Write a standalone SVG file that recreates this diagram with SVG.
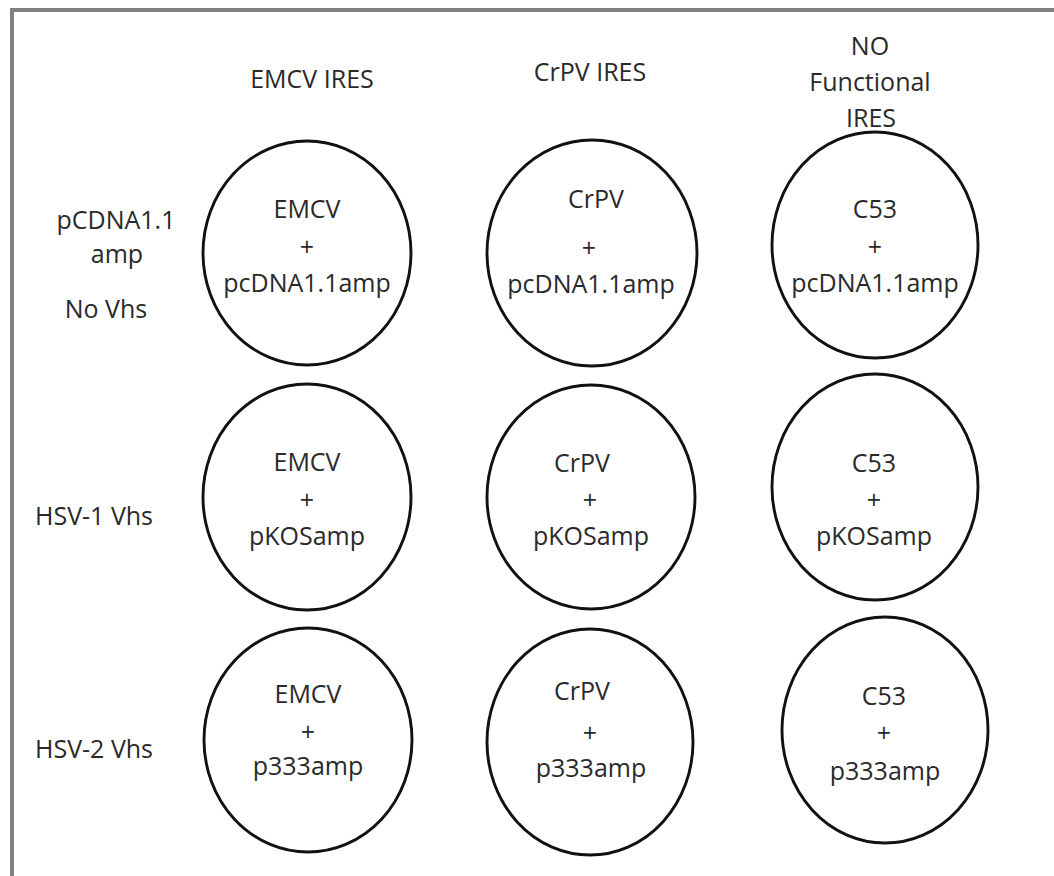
<svg xmlns="http://www.w3.org/2000/svg" width="1054" height="876" viewBox="0 0 1054 876">
  <style>
    text { font-family: "Open Sans", "Liberation Sans", sans-serif; font-size: 25px; fill: #2a2a2a; text-anchor: middle; }
    .left { text-anchor: start; }
    .well { fill: none; stroke: #111; stroke-width: 2.9; }
    .frame { fill: #fff; stroke: #808080; stroke-width: 4; }
  </style>
  <rect x="0" y="0" width="1054" height="876" fill="#fff"/>
  <!-- outer frame, runs off the right and bottom edges -->
  <rect class="frame" x="12" y="10" width="1100" height="900"/>

  <!-- column headers -->
  <g id="headers">
    <text x="312" y="88">EMCV IRES</text>
    <text x="590" y="81">CrPV IRES</text>
    <text x="870" y="55">NO</text>
    <text x="870" y="91">Functional</text>
    <text x="871" y="127">IRES</text>
  </g>

  <!-- row labels -->
  <g id="rows">
    <text x="116" y="229">pCDNA1.1</text>
    <text x="117" y="263">amp</text>
    <text x="106" y="318">No Vhs</text>
    <text class="left" x="35" y="525">HSV-1 Vhs</text>
    <text class="left" x="35" y="758">HSV-2 Vhs</text>
  </g>

  <!-- row 1: pcDNA1.1amp -->
  <g id="emcv-pcdna">
    <ellipse class="well" cx="307" cy="253" rx="104" ry="112"/>
    <text x="307" y="218">EMCV</text>
    <text x="307" y="256">+</text>
    <text x="307" y="292">pcDNA1.1amp</text>
  </g>
  <g id="crpv-pcdna">
    <ellipse class="well" cx="592" cy="253" rx="105" ry="113"/>
    <text x="596" y="208">CrPV</text>
    <text x="589" y="257">+</text>
    <text x="591" y="293">pcDNA1.1amp</text>
  </g>
  <g id="c53-pcdna">
    <ellipse class="well" cx="875" cy="245" rx="103" ry="113"/>
    <text x="875" y="218">C53</text>
    <text x="875" y="256">+</text>
    <text x="875" y="292">pcDNA1.1amp</text>
  </g>

  <!-- row 2: pKOSamp -->
  <g id="emcv-pkos">
    <ellipse class="well" cx="307" cy="497" rx="104" ry="113"/>
    <text x="307" y="471">EMCV</text>
    <text x="307" y="509">+</text>
    <text x="307" y="545">pKOSamp</text>
  </g>
  <g id="crpv-pkos">
    <ellipse class="well" cx="591" cy="497" rx="104" ry="112"/>
    <text x="582" y="472">CrPV</text>
    <text x="590" y="509">+</text>
    <text x="591" y="545">pKOSamp</text>
  </g>
  <g id="c53-pkos">
    <ellipse class="well" cx="875" cy="487" rx="103" ry="113"/>
    <text x="874" y="472">C53</text>
    <text x="874" y="509">+</text>
    <text x="874" y="545">pKOSamp</text>
  </g>

  <!-- row 3: p333amp -->
  <g id="emcv-p333">
    <ellipse class="well" cx="308" cy="740" rx="104" ry="112"/>
    <text x="308" y="703">EMCV</text>
    <text x="308" y="741">+</text>
    <text x="308" y="775">p333amp</text>
  </g>
  <g id="crpv-p333">
    <ellipse class="well" cx="590" cy="742" rx="103" ry="113"/>
    <text x="582" y="700">CrPV</text>
    <text x="590" y="742">+</text>
    <text x="591" y="777">p333amp</text>
  </g>
  <g id="c53-p333">
    <ellipse class="well" cx="885" cy="730" rx="103" ry="113"/>
    <text x="884" y="705">C53</text>
    <text x="884" y="742">+</text>
    <text x="885" y="780">p333amp</text>
  </g>

  <!-- no connectors in this layout -->
  <g id="connectors"/>
</svg>
